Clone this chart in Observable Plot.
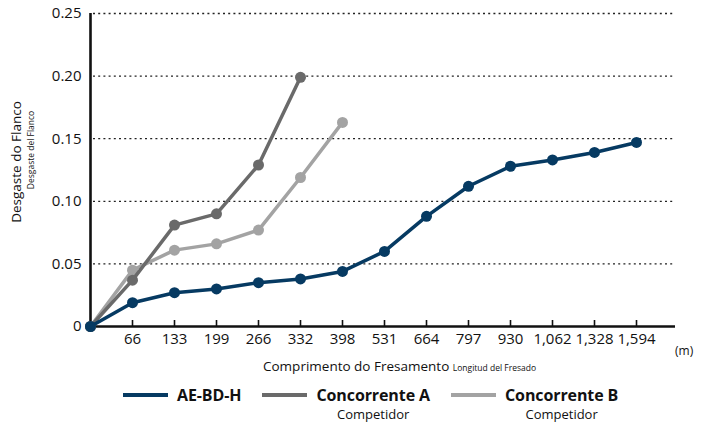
<!DOCTYPE html>
<html>
<head>
<meta charset="utf-8">
<script src="https://cdn.jsdelivr.net/npm/d3@7"></script>
<script src="https://cdn.jsdelivr.net/npm/@observablehq/plot@0.6"></script>
<style>
  body { margin: 0; background: #fff; font-family: "Open Sans", sans-serif; color: #111; }
  #wrap { position: relative; width: 710px; height: 422px; overflow: hidden; }
  #wrap svg { position: absolute; left: 0; top: 0; }
  .ytitle { position: absolute; white-space: nowrap; transform: translate(-50%, -50%) rotate(-90deg); line-height: 1; }
  .xtitle { position: absolute; white-space: nowrap; line-height: 1; }
  .legend { position: absolute; left: 123px; top: 384px; display: flex; gap: 21px; align-items: flex-start; }
  .item { display: flex; align-items: flex-start; gap: 9px; }
  .swatch { width: 45px; height: 4px; margin-top: 9px; }
  .names { display: flex; flex-direction: column; align-items: center; }
  .names b { font-size: 16px; line-height: 22px; font-weight: 700; letter-spacing: -0.1px; }
  .names span { font-size: 13px; line-height: 17px; }
</style>
</head>
<body>
<div id="wrap"></div>
<script>
// Milling length (m) at each measurement point
const lengths = ["0", "66", "133", "199", "266", "332", "398", "531", "664", "797", "930", "1,062", "1,328", "1,594"];

// Flank wear (mm) per tool
const aebdh = [0, 0.019, 0.027, 0.030, 0.035, 0.038, 0.044, 0.060, 0.088, 0.112, 0.128, 0.133, 0.139, 0.147];
const concorrenteA = [0, 0.037, 0.081, 0.090, 0.129, 0.199];
const concorrenteB = [0, 0.045, 0.061, 0.066, 0.077, 0.119, 0.163];

const seriesNames = ["AE-BD-H", "Concorrente A", "Concorrente B"];
const seriesSub = ["", "Competidor", "Competidor"];
const seriesColors = ["#063a62", "#6a6a6a", "#a3a3a3"];
const yTicks = [0, 0.05, 0.10, 0.15, 0.20, 0.25];

const toRows = vals => vals.map((v, i) => ({ i, v }));
const seriesRows = [aebdh, concorrenteA, concorrenteB].map(toRows);
const tickIdx = d3.range(1, lengths.length);

const lineAndDots = s => [
  Plot.line(seriesRows[s], { x: "i", y: "v", stroke: seriesColors[s], strokeWidth: 3.5 }),
  Plot.dot(seriesRows[s], { x: "i", y: "v", fill: seriesColors[s], r: 5.5 })
];

const chart = Plot.plot({
  width: 710,
  height: 358,
  marginLeft: 90,
  marginRight: 32,
  marginTop: 13,
  marginBottom: 32,
  style: { fontFamily: "Open Sans, sans-serif", fontSize: "15px", color: "#111", background: "transparent" },
  x: { type: "linear", domain: [0, lengths.length] },
  y: { domain: [0, 0.25] },
  marks: [
    Plot.ruleY(yTicks.slice(1), { stroke: "#222", strokeWidth: 1.3, strokeDasharray: "2,3.2", insetLeft: 3, insetRight: 4 }),
    Plot.axisY({ ticks: yTicks, tickSize: 0, tickPadding: 9, fontSize: 15, label: null,
      tickFormat: d => d === 0 ? "0" : d.toFixed(2) }),
    Plot.axisX(tickIdx, { tickSize: 0, tickPadding: 7, fontSize: 15, label: null,
      tickFormat: i => lengths[i] }),
    Plot.ruleX(tickIdx, { x: d => d, y1: 0, y2: 0, insetTop: -6, stroke: "#111", strokeWidth: 1.6 }),
    Plot.ruleY([0], { stroke: "#111", strokeWidth: 2.6, insetRight: 3 }),
    Plot.ruleX([0], { stroke: "#111", strokeWidth: 2.6 }),
    ...lineAndDots(2),
    ...lineAndDots(1),
    ...lineAndDots(0)
  ]
});

const wrap = document.getElementById("wrap");
wrap.appendChild(chart);

// Axis titles
const yMain = document.createElement("div");
yMain.className = "ytitle";
yMain.style.cssText = "left:17px;top:162px;font-size:13.5px;";
yMain.textContent = "Desgaste do Flanco";
wrap.appendChild(yMain);

const ySub = document.createElement("div");
ySub.className = "ytitle";
ySub.style.cssText = "left:31px;top:150px;font-size:8.5px;";
ySub.textContent = "Desgaste del Flanco";
wrap.appendChild(ySub);

const xTitle = document.createElement("div");
xTitle.className = "xtitle";
xTitle.style.cssText = "left:263px;top:360px;font-size:13.5px;";
xTitle.innerHTML = 'Comprimento do Fresamento <span style="font-size:8.5px">Longitud del Fresado</span>';
wrap.appendChild(xTitle);

const unit = document.createElement("div");
unit.className = "xtitle";
unit.style.cssText = "left:675px;top:345px;font-size:12px;";
unit.textContent = "(m)";
wrap.appendChild(unit);

// Legend
const legend = document.createElement("div");
legend.className = "legend";
seriesNames.forEach((name, s) => {
  const item = document.createElement("div");
  item.className = "item";
  const sw = document.createElement("div");
  sw.className = "swatch";
  sw.style.background = seriesColors[s];
  const names = document.createElement("div");
  names.className = "names";
  const b = document.createElement("b");
  b.textContent = name;
  names.appendChild(b);
  if (seriesSub[s]) {
    const sub = document.createElement("span");
    sub.textContent = seriesSub[s];
    names.appendChild(sub);
  }
  item.appendChild(sw);
  item.appendChild(names);
  legend.appendChild(item);
});
wrap.appendChild(legend);
</script>
</body>
</html>
